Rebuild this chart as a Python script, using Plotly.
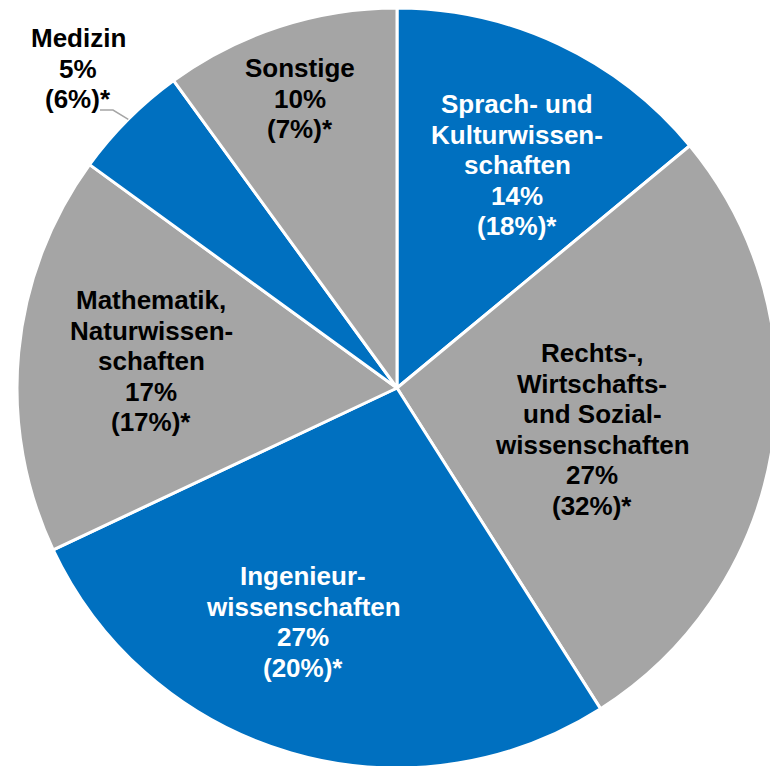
import math
import plotly.graph_objects as go

# ---------------- data ----------------
categories = [
    "Sprach- und Kulturwissenschaften",
    "Rechts-, Wirtschafts- und Sozialwissenschaften",
    "Ingenieurwissenschaften",
    "Mathematik, Naturwissenschaften",
    "Medizin",
    "Sonstige",
]
shares = [14, 27, 27, 17, 5, 10]          # current share in %
comparison = [18, 32, 20, 17, 6, 7]       # value in brackets (%)*
label_lines = [
    ["Sprach- und", "Kulturwissen-", "schaften"],
    ["Rechts-,", "Wirtschafts-", "und Sozial-", "wissenschaften"],
    ["Ingenieur-", "wissenschaften"],
    ["Mathematik,", "Naturwissen-", "schaften"],
    ["Medizin"],
    ["Sonstige"],
]

# ---------------- style / layout ----------------
BLUE = "#0070C0"
GRAY = "#A5A5A5"
slice_colors = [BLUE, GRAY, BLUE, GRAY, BLUE, GRAY]
text_colors = ["white", "black", "white", "black", "black", "black"]

W, H = 790, 780
CX, CY, R = 397, 388, 380          # pie centre / radius in pixels
FONT = "Liberation Sans, Arial, sans-serif"
FS = 26
LINE_STEP = 30.5
# centre x and y of the first text line for each label (pixels)
label_pos = [(517, 104), (592, 353), (303, 576), (151, 300), (78, 38), (300, 68)]

fig = go.Figure(
    go.Pie(
        labels=categories,
        values=shares,
        sort=False,
        direction="clockwise",
        rotation=0,
        marker=dict(colors=slice_colors, line=dict(color="white", width=3)),
        textinfo="none",
        hoverinfo="label+percent",
        showlegend=False,
        domain=dict(
            x=[(CX - R) / W, (CX + R) / W],
            y=[(H - (CY + R)) / H, (H - (CY - R)) / H],
        ),
    )
)

annotations = []
for lines, s, c, (px, py), tc in zip(label_lines, shares, comparison, label_pos, text_colors):
    all_lines = lines + [f"{s}%", f"({c}%)*"]
    for i, t in enumerate(all_lines):
        annotations.append(
            dict(
                x=px / W,
                y=1 - (py + i * LINE_STEP) / H,
                xref="paper",
                yref="paper",
                text=t,
                showarrow=False,
                xanchor="center",
                yanchor="middle",
                font=dict(family=FONT, size=FS, color=tc, weight="bold"),
            )
        )

# leader line for "Medizin" (outside label) ending at the slice's mid-angle on the rim
total = sum(shares)
idx = categories.index("Medizin")
mid_frac = (sum(shares[:idx]) + shares[idx] / 2) / total
ang = 2 * math.pi * mid_frac
ex = CX + R * math.sin(ang)
ey = CY - R * math.cos(ang)
pts = [(100, 110), (113, 110), (ex, ey)]
path = "M " + " L ".join(f"{x / W},{1 - y / H}" for x, y in pts)
shapes = [
    dict(type="path", path=path, xref="paper", yref="paper",
         line=dict(color="#A5A5A5", width=1.5))
]

fig.update_layout(
    width=W,
    height=H,
    margin=dict(l=0, r=0, t=0, b=0),
    paper_bgcolor="white",
    plot_bgcolor="white",
    annotations=annotations,
    shapes=shapes,
)

fig.write_html(
    "out.html",
    config={"displayModeBar": False},
    post_script="document.body.style.margin='0';document.body.style.overflow='hidden';",
)
